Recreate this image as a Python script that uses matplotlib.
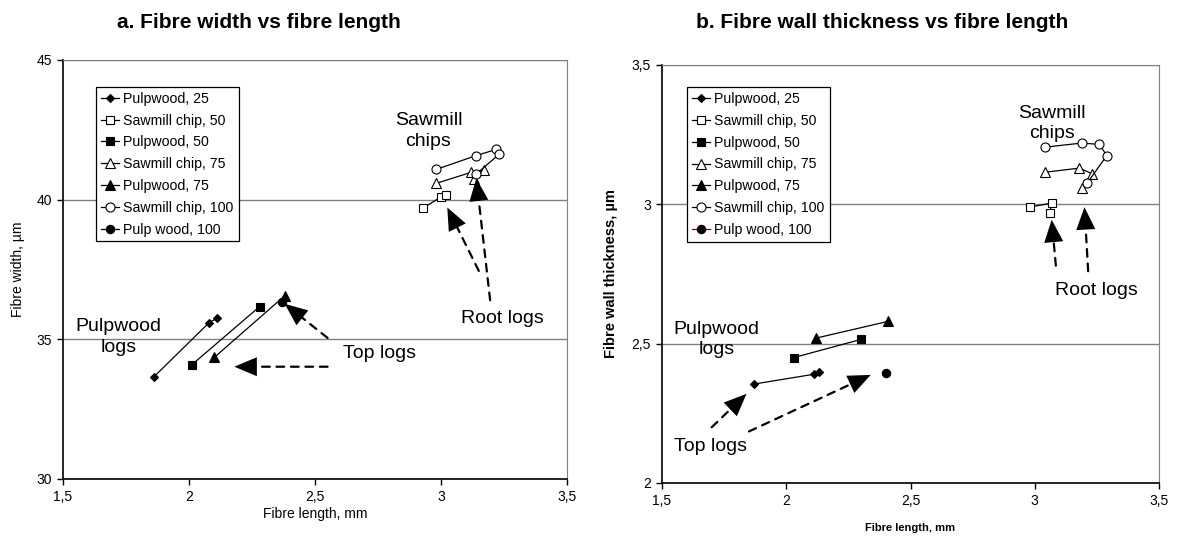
import matplotlib
matplotlib.use("Agg")
from matplotlib import pyplot as plt
from matplotlib.ticker import FuncFormatter, MultipleLocator

plt.rcParams['font.family'] = ['Liberation Sans', 'DejaVu Sans']

### DATA ###

labels = ["Pulpwood, 25", "Sawmill chip, 50", "Pulpwood, 50", "Sawmill chip, 75",
          "Pulpwood, 75", "Sawmill chip, 100", "Pulp wood, 100"]
markers = ["D", "s", "s", "^", "^", "o", "o"]
filled = [True, False, True, False, True, False, True]
msizes = [4.5, 6, 6, 6.5, 6.5, 6.5, 6]

# a. fibre width vs fibre length
a_len = [
    [1.86, 2.08, 2.11],
    [2.93, 3.00, 3.02],
    [2.01, 2.28],
    [2.98, 3.12, 3.17, 3.13],
    [2.10, 2.38],
    [2.98, 3.14, 3.22, 3.23, 3.14],
    [2.37],
]
a_width = [
    [33.65, 35.60, 35.75],
    [39.70, 40.10, 40.17],
    [34.08, 36.17],
    [40.58, 40.98, 41.05, 40.73],
    [34.35, 36.56],
    [41.08, 41.58, 41.80, 41.62, 40.92],
    [36.33],
]

# b. fibre wall thickness vs fibre length
b_len = [
    [1.87, 2.11, 2.13],
    [2.98, 3.07, 3.06],
    [2.03, 2.30],
    [3.04, 3.18, 3.23, 3.19],
    [2.12, 2.41],
    [3.04, 3.19, 3.26, 3.29, 3.21],
    [2.40],
]
b_wall = [
    [2.355, 2.39, 2.40],
    [2.99, 3.005, 2.97],
    [2.45, 2.515],
    [3.115, 3.13, 3.11, 3.06],
    [2.52, 2.58],
    [3.205, 3.22, 3.215, 3.175, 3.075],
    [2.395],
]

# annotations: (text, x, y), arrows: (tail, head)
a_texts = [("Pulpwood\nlogs", 1.72, 35.08), ("Top logs", 2.61, 34.5),
           ("Sawmill\nchips", 2.95, 42.45), ("Root logs", 3.08, 35.75)]
a_arrows = [((2.55, 35.05), (2.38, 36.27)), ((2.55, 34.02), (2.18, 34.02)),
            ((3.15, 37.45), (3.025, 39.72)), ((3.195, 36.4), (3.14, 40.76))]
b_texts = [("Pulpwood\nlogs", 1.72, 2.515), ("Top logs", 1.55, 2.13),
           ("Sawmill\nchips", 3.07, 3.29), ("Root logs", 3.08, 2.69)]
b_arrows = [((1.70, 2.20), (1.84, 2.32)), ((1.85, 2.185), (2.34, 2.388)),
            ((3.085, 2.78), (3.068, 2.945)), ((3.215, 2.76), (3.20, 2.99))]


def comma(v, pos):
    s = ('%.1f' % v).rstrip('0').rstrip('.')
    return s.replace('.', ',')


def draw_panel(ax, xs, ys, ylim, ystep, texts, arrows, legend_anchor, last_line_color):
    for i in range(len(labels)):
        mfc = 'black' if filled[i] else 'white'
        lc = last_line_color if i == len(labels) - 1 else 'black'
        ax.plot(xs[i], ys[i], color=lc, lw=0.9, marker=markers[i], ms=msizes[i],
                mfc=mfc, mec='black', mew=0.8, label=labels[i], zorder=3)

    ax.set_xlim(1.5, 3.5)
    ax.set_ylim(*ylim)
    ax.xaxis.set_major_locator(MultipleLocator(0.5))
    ax.yaxis.set_major_locator(MultipleLocator(ystep))
    ax.xaxis.set_major_formatter(FuncFormatter(comma))
    ax.yaxis.set_major_formatter(FuncFormatter(comma))
    ax.tick_params(direction='out', length=4, width=1, labelsize=10, pad=4)
    ax.yaxis.grid(True, color='#808080', lw=1)
    ax.set_axisbelow(True)
    for s in ['top', 'right']:
        ax.spines[s].set_color('#808080')
    for s in ['left', 'bottom']:
        ax.spines[s].set_linewidth(1.2)

    for (t, x, y) in texts:
        ax.text(x, y, t, fontsize=14, ha='center' if '\n' in t else 'left',
                va='center', multialignment='center', linespacing=1.3, zorder=4)
    for (tail, head) in arrows:
        # dashed shaft, stopping short of the head
        ax.annotate('', xy=head, xytext=tail,
                    arrowprops=dict(arrowstyle='-', linestyle=(0, (3.5, 3)), lw=1.6,
                                    color='black', shrinkA=0, shrinkB=8), zorder=5)
        # solid filled head
        ax.annotate('', xy=head, xytext=tail,
                    arrowprops=dict(arrowstyle='-|>,head_length=0.9,head_width=0.38',
                                    lw=0, color='black', mutation_scale=18,
                                    shrinkA=0, shrinkB=0), zorder=5)

    leg = ax.legend(loc='upper left', bbox_to_anchor=legend_anchor, borderaxespad=0,
                    fontsize=10.2, handlelength=1.3, handletextpad=0.3, labelspacing=0.55,
                    borderpad=0.35, fancybox=False, framealpha=1, edgecolor='black')
    leg.get_frame().set_linewidth(0.9)


fig = plt.figure(figsize=(11.77, 5.39), dpi=100)
ax1 = fig.add_axes([63 / 1177, 60 / 539, 504 / 1177, 419 / 539])
ax2 = fig.add_axes([662 / 1177, 56 / 539, 497 / 1177, 418 / 539])

draw_panel(ax1, a_len, a_width, (30, 45), 5, a_texts, a_arrows, (0.065, 0.936), 'black')
draw_panel(ax2, b_len, b_wall, (2, 3.5), 0.5, b_texts, b_arrows, (0.05, 0.947), '#8B0000')

ax1.set_xlabel("Fibre length, mm", fontsize=10, labelpad=2)
ax1.set_ylabel("Fibre width, µm", fontsize=10, labelpad=8)
narrow = ['Liberation Sans Narrow', 'Liberation Sans']
ax2.set_xlabel("Fibre length, mm", fontsize=8, fontweight='bold', family=narrow, labelpad=11)
ax2.set_ylabel("Fibre wall thickness, µm", fontsize=10.5, fontweight='bold', family=narrow, labelpad=10)

fig.text(259 / 1177, 1 - 22 / 539, "a. Fibre width vs fibre length", fontsize=15,
         fontweight='bold', ha='center', va='center')
fig.text(882 / 1177, 1 - 22 / 539, "b. Fibre wall thickness vs fibre length", fontsize=15,
         fontweight='bold', ha='center', va='center')

fig.savefig("out.png", dpi=100)
